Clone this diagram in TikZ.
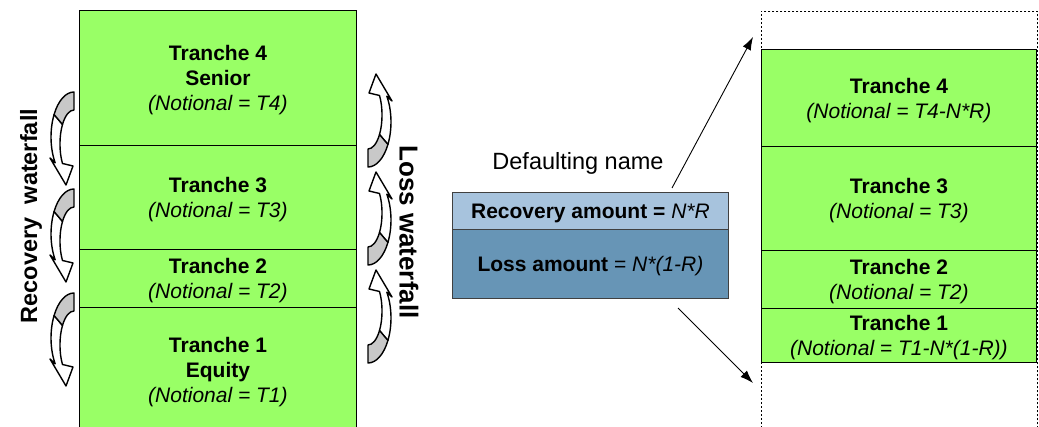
\documentclass[tikz,border=0pt]{standalone}
\usepackage{fontspec}
\setmainfont{Liberation Sans}
\usetikzlibrary{arrows.meta,calc}
\definecolor{trgreen}{HTML}{99FF66}
\definecolor{recblue}{HTML}{A7C3DD}
\definecolor{lossblue}{HTML}{6795B6}
\definecolor{ribbongray}{HTML}{C8C8C8}
\tikzset{
  x=1pt, y=1pt,
  boxtext/.style={label={[align=center, inner sep=0pt, yshift=-2.5pt,
    font=\fontsize{21}{25}\selectfont]center:#1}},
  tranche/.style={draw=black, line width=0.9pt, fill=trgreen,
    inner sep=0pt, anchor=north west, minimum width=277pt},
  trancheR/.style={tranche, minimum width=275pt},
  amountbox/.style={draw=black!75, line width=0.9pt, inner sep=0pt,
    anchor=north west, minimum width=276pt},
  ribbon/.style={draw=black, line width=1.4pt, line join=round},
  flow/.style={draw=black, line width=0.9pt, -{Latex[length=13pt,width=9pt]}},
  sidelabel/.style={font=\fontsize{23.5}{27}\selectfont\bfseries, inner sep=0pt},
  curvarrow/.pic={
    % front of the ribbon, ending in the arrowhead
    \draw[ribbon, fill=white] (-19.9,-22.5)
      arc[start angle=150, end angle=215, x radius=23, y radius=45]
      -- (-24,-66) -- (-8,-93) -- (-1,-74) -- (-11.5,-71.5)
      arc[start angle=215, end angle=145, x radius=14, y radius=34] -- cycle;
    % back of the ribbon, shaded
    \draw[ribbon, fill=ribbongray] (0,0)
      arc[start angle=90, end angle=150, x radius=23, y radius=45]
      -- (-11.5,-32.5)
      arc[start angle=145, end angle=90, x radius=14, y radius=34] -- cycle;
  }
}
\begin{document}
\begin{tikzpicture}
\useasboundingbox (0,0) rectangle (1039,427);

% ---- original capital structure ----
\node[tranche, minimum height=135pt,
  boxtext={\textbf{Tranche 4}\\\textbf{Senior}\\\textit{(Notional = T4)}}] (L4) at (79,417) {};
\node[tranche, minimum height=104pt,
  boxtext={\textbf{Tranche 3}\\\textit{(Notional = T3)}}] (L3) at (79,282) {};
\node[tranche, minimum height=58pt,
  boxtext={\textbf{Tranche 2}\\\textit{(Notional = T2)}}] (L2) at (79,178) {};
\node[tranche, minimum height=124pt,
  boxtext={\textbf{Tranche 1}\\\textbf{Equity}\\\textit{(Notional = T1)}}] (L1) at (79,120) {};

% ---- waterfall ribbons ----
\pic at (74,335) {curvarrow};
\pic at (74,238) {curvarrow};
\pic at (74,134) {curvarrow};
\pic[rotate=180] at (368,260) {curvarrow};
\pic[rotate=180] at (368,162) {curvarrow};
\pic[rotate=180] at (368,64) {curvarrow};

\node[sidelabel, rotate=90] (reclab) at (31,211) {Recovery\ \ waterfall};
\node[sidelabel, rotate=-90, font=\fontsize{26}{30}\selectfont\bfseries] (losslab) at (409,195) {Loss waterfall};

% ---- defaulting name ----
\node[font=\fontsize{23.5}{27}\selectfont, inner sep=0pt] (defname) at (578,264) {Defaulting name};
\node[amountbox, fill=recblue, minimum height=37pt,
  boxtext={\textbf{Recovery amount =} \textit{N*R}}] (rec) at (452,235) {};
\node[amountbox, fill=lossblue, minimum height=69pt,
  boxtext={\textbf{Loss amount} = \textit{N*(1-R)}}] (loss) at (452,198) {};

% ---- capital structure after the default ----
\node[draw=black, dashed, line width=0.6pt, dash pattern=on 2pt off 2pt,
  minimum width=276pt, minimum height=425pt, anchor=north west, inner sep=0pt] (frame) at (761,416) {};
\node[trancheR, minimum height=97pt,
  boxtext={\textbf{Tranche 4}\\\textit{(Notional = T4-N*R)}}] (R4) at (761,378) {};
\node[trancheR, minimum height=104pt,
  boxtext={\textbf{Tranche 3}\\\textit{(Notional = T3)}}] (R3) at (761,281) {};
\node[trancheR, minimum height=58pt,
  boxtext={\textbf{Tranche 2}\\\textit{(Notional = T2)}}] (R2) at (761,177) {};
\node[trancheR, minimum height=54pt,
  boxtext={\textbf{Tranche 1}\\\textit{(Notional = T1-N*(1-R))}}] (R1) at (761,119) {};

% ---- flows from the defaulting name ----
\coordinate (upS) at (672,239);
\coordinate (upE) at (753,390);
\coordinate (dnS) at (678,119);
\coordinate (dnE) at (753,44);
\draw[flow] (upS) -- (upE);
\draw[flow] (dnS) -- (dnE);
\end{tikzpicture}
\end{document}
